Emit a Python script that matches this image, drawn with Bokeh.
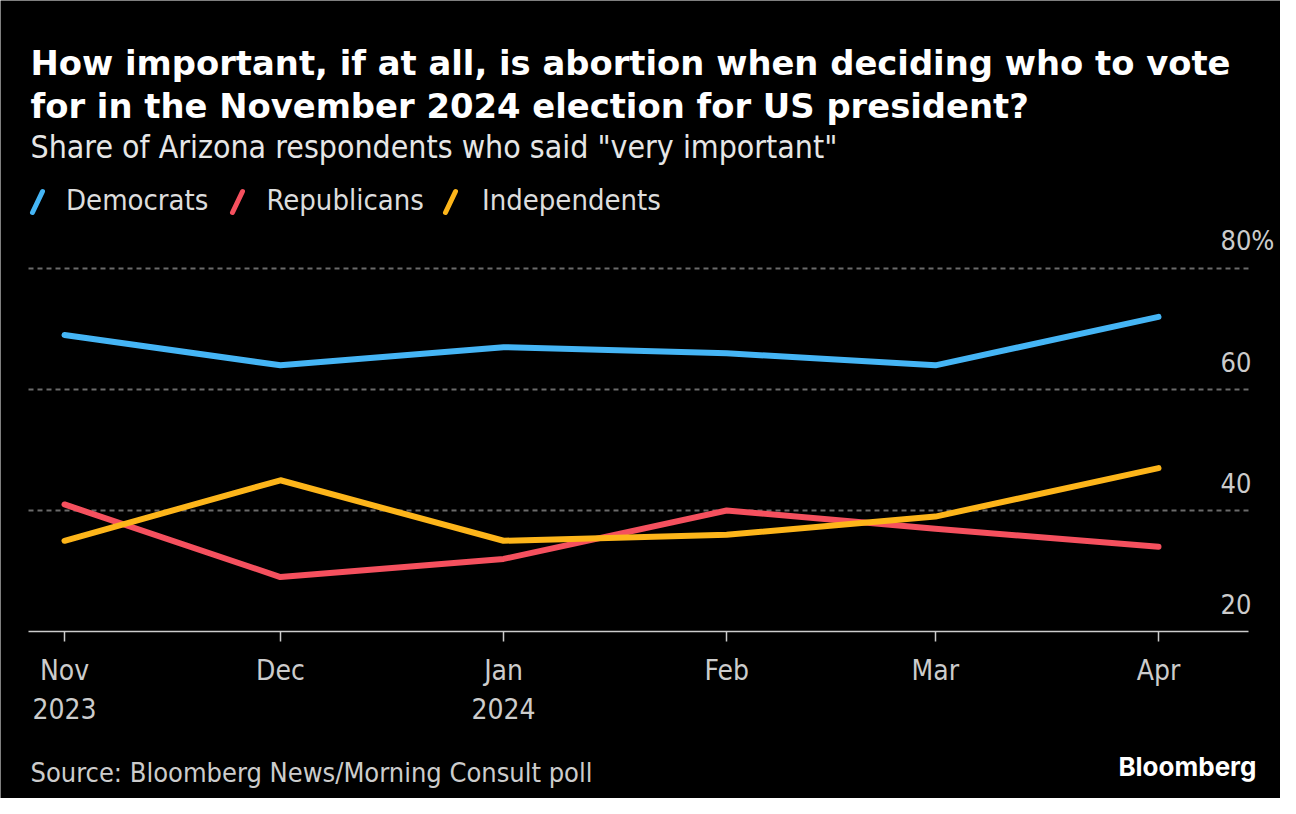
from datetime import datetime, timedelta

from bokeh.plotting import figure
from bokeh.models import (Range1d, FixedTicker, Label, Legend, LegendItem, Grid,
                          Arrow)
from bokeh.embed import file_html
from bokeh.resources import INLINE

# ---------------- data ----------------
months = [datetime(2023, 11, 1), datetime(2023, 12, 1), datetime(2024, 1, 1),
          datetime(2024, 2, 1), datetime(2024, 3, 1), datetime(2024, 4, 1)]
month_labels = ["Nov\n2023", "Dec", "Jan\n2024", "Feb", "Mar", "Apr"]

democrats = [69, 64, 67, 66, 64, 72]
republicans = [41, 29, 32, 40, 37, 34]
independents = [35, 45, 35, 36, 39, 47]

series_names = ["Democrats", "Republicans", "Independents"]
series_colors = ["#45b5f5", "#f5505e", "#fdb51a"]

y_ticks = [20, 40, 60, 80]
y_tick_labels = ["20", "40", "60", "80%"]

title_lines = ["How important, if at all, is abortion when deciding who to vote",
               "for in the November 2024 election for US president?"]
subtitle = 'Share of Arizona respondents who said "very important"'
source = "Source: Bloomberg News/Morning Consult poll"
brand = "Bloomberg"

# ---------------- layout ----------------
def ms(d):
    return (d - datetime(1970, 1, 1)).total_seconds() * 1000.0

COND = "DejaVu Sans Condensed"
W, H = 1280, 798

# the frame covers the whole canvas; the plotting area is bounded explicitly
view_x0 = months[0] - timedelta(days=8.893)
view_x1 = months[-1] + timedelta(days=16.952)
area_x0 = months[0] - timedelta(days=5.0)
area_x1 = months[-1] + timedelta(days=12.5)
Y_VIEW = (-7.6, 124.3)

p = figure(width=W, height=H, x_axis_type="datetime", y_axis_location=None,
           x_range=Range1d(view_x0, view_x1), y_range=Range1d(*Y_VIEW),
           output_backend="svg", toolbar_location=None, title_location=None,
           min_border=0, min_border_left=0, min_border_right=0,
           min_border_top=0, min_border_bottom=0,
           background_fill_color="black", border_fill_color="black")
p.outline_line_color = None
p.outline_line_alpha = 0

# horizontal gridlines, limited to the plotting area
p.center = [r for r in p.center if not isinstance(r, Grid)]
grid_kw = dict(dimension=1, ticker=FixedTicker(ticks=y_ticks[1:]),
               grid_line_color="#6a6a6a", grid_line_width=2, grid_line_dash="5 4")
if "cross_bounds" in Grid.properties():
    p.add_layout(Grid(cross_bounds=(ms(area_x0), ms(area_x1)), **grid_kw))
else:
    p.segment(x0=[area_x0] * 3, x1=[area_x1] * 3, y0=y_ticks[1:], y1=y_ticks[1:],
              line_color="#6a6a6a", line_width=2, line_dash="5 4")

# x axis drawn at y = 20 inside the frame
ax = p.xaxis[0]
ax.fixed_location = y_ticks[0]
ax.bounds = (ms(area_x0), ms(area_x1))
ax.ticker = FixedTicker(ticks=[ms(m) for m in months])
ax.major_label_overrides = {ms(m): lab for m, lab in zip(months, month_labels)}
ax.axis_line_color = "#cccccc"
ax.axis_line_width = 1.5
ax.major_tick_line_color = "#cccccc"
ax.major_tick_line_width = 1.5
ax.major_tick_out = 10
ax.major_tick_in = 0
ax.minor_tick_line_color = None
ax.major_label_text_font = COND
ax.major_label_text_font_size = "28px"
ax.major_label_text_color = "#cccccc"
ax.major_label_standoff = 12

# lines
for vals, color in zip([democrats, republicans, independents], series_colors):
    p.line(x=months, y=vals, line_width=6, line_color=color,
           line_cap="round", line_join="round")

# legend: texts via a Legend (glyphs transparent), slanted colour strokes on top
items = []
for name, color in zip(series_names, series_colors):
    r = p.line(x=[], y=[], line_color=color, line_alpha=0)
    items.append(LegendItem(label=name, renderers=[r]))
legend = Legend(items=items, location=(30, H - 217), orientation="horizontal",
                glyph_width=20, glyph_height=30, label_height=30,
                label_standoff=16, spacing=22, padding=0, margin=0,
                background_fill_alpha=0, border_line_alpha=0,
                label_text_font=COND, label_text_font_size="29px",
                label_text_color="#dddddd")
p.add_layout(legend)

legend_text_x = [66, 266, 479]
for tx, color in zip(legend_text_x, series_colors):
    p.add_layout(Arrow(start=None, end=None,
                       x_start=tx - 34, y_start=H - 212,
                       x_end=tx - 24, y_end=H - 191,
                       start_units="screen", end_units="screen",
                       line_color=color, line_width=5, line_cap="round"))

# y tick labels (right, above gridlines)
for v, t in zip(y_ticks, y_tick_labels):
    p.add_layout(Label(x=ms(area_x1), y=v, x_offset=-28, y_offset=28, text=t,
                       text_align="left", text_baseline="alphabetic",
                       text_font=COND, text_font_size="27px",
                       text_color="#cccccc"))

# header / footer texts (screen units, origin at bottom-left of canvas)
def add_text(text, cx, cy, **kw):
    p.add_layout(Label(x=cx, y=H - cy, x_units="screen", y_units="screen",
                       text=text, text_baseline="alphabetic", **kw))

add_text(title_lines[0], 30, 63, text_font="DejaVu Sans", text_font_style="bold",
         text_font_size="33.8px", text_color="#ffffff")
add_text(title_lines[1], 30, 106, text_font="DejaVu Sans", text_font_style="bold",
         text_font_size="33.8px", text_color="#ffffff")
add_text(subtitle, 30, 146, text_font=COND, text_font_size="31.8px",
         text_color="#e6e6e6")
add_text(source, 30, 772, text_font=COND, text_font_size="27px",
         text_color="#cccccc")
add_text(brand, 1256, 766, text_align="right", text_font="Inter",
         text_font_style="bold", text_font_size="26px", text_color="#ffffff")

open("out.html", "w").write(file_html(p, INLINE))
